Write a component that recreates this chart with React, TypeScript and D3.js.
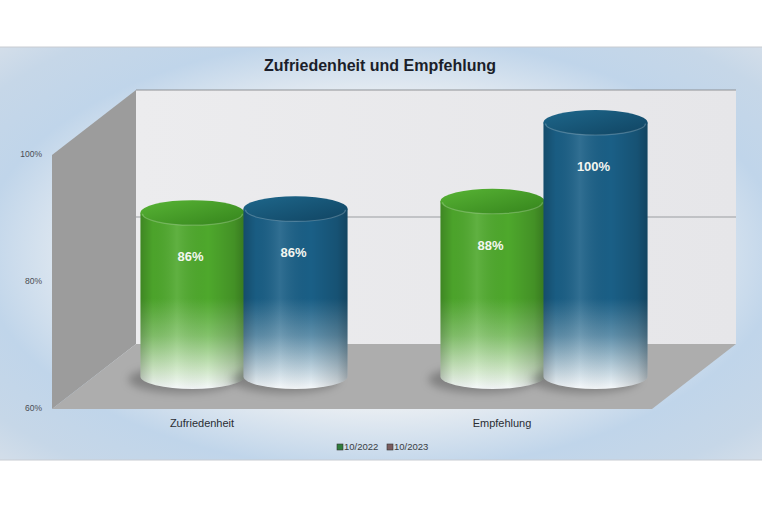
import * as d3 from 'd3'

// ---- data ----
const categories = ['Zufriedenheit', 'Empfehlung']
const seriesNames = ['10/2022', '10/2023']
const values2022 = [0.858, 0.876]
const values2023 = [0.864, 1.0]
const yTicks = [0.6, 0.8, 1.0]

const W = 762
const H = 508

// front plane of the 3D box
const FRONT_LEFT = 52
const FRONT_RIGHT = 652
const FRONT_BOTTOM = 409
const FRONT_TOP = 155
// depth of the box
const DX = 84
const DY = -65

const SERIES_COLORS = [
  { main: '#4ea82c', top: '#58b435', dark: '#35841c', legend: '#2f7d3c' },
  { main: '#1a5f86', top: '#1e678b', dark: '#104462', legend: '#7a5c5e' },
]

const pctFmt = d3.format('.0%')

export default function App() {
  const y = d3.scaleLinear().domain([0.6, 1]).range([FRONT_BOTTOM, FRONT_TOP])
  const x0 = d3.scaleBand<string>().domain(categories).range([FRONT_LEFT, FRONT_RIGHT])
  const x1 = d3.scaleBand<string>().domain(seriesNames).range([0, x0.bandwidth()]).paddingOuter(0.456)

  const rx = 52
  const ry = 12.5
  const midX = DX / 2
  const midY = DY / 2

  const seriesValues = [values2022, values2023]

  // back wall corners
  const bx0 = FRONT_LEFT + DX
  const bx1 = FRONT_RIGHT + DX
  const byTop = y(1) + DY
  const byBot = y(0.6) + DY

  const fadeTop = y(1) + midY
  const fadeBot = y(0.6) + midY + ry

  const cylinders: React.ReactNode[] = []
  categories.forEach((cat, ci) => {
    seriesNames.forEach((s, si) => {
      const v = seriesValues[si][ci]
      const cx = (x0(cat) ?? 0) + (x1(s) ?? 0) + x1.bandwidth() / 2 + midX
      const yTop = y(v) + midY
      const yBot = y(0.6) + midY
      const body = `M${cx - rx},${yTop} L${cx - rx},${yBot} A${rx},${ry} 0 0 0 ${cx + rx},${yBot} L${cx + rx},${yTop} Z`
      cylinders.push(
        <g key={`${ci}-${si}`}>
          <ellipse cx={cx - 10} cy={yBot + 3} rx={rx + 2} ry={ry + 1} fill="rgba(0,0,0,0.25)" filter="url(#blur)" />
          <path d={body} fill={`url(#vgrad${si})`} />
          <path d={body} fill="url(#hshade)" />
          <ellipse cx={cx} cy={yTop} rx={rx} ry={ry} fill={`url(#topgrad${si})`} />
          <path
            d={`M${cx - rx + 2},${yTop + 1} A${rx - 2},${ry - 1} 0 0 0 ${cx + rx - 2},${yTop + 1}`}
            fill="none" stroke="rgba(255,255,255,0.22)" strokeWidth={1.2}
          />
          <text
            x={cx - 2} y={yTop + 45}
            textAnchor="middle" dominantBaseline="middle"
            style={{ fontSize: 13, fontWeight: 700, fill: '#f4f6f0', fontFamily: 'Liberation Sans, Arial, sans-serif' }}
          >
            {pctFmt(v)}
          </text>
        </g>
      )
    })
  })

  const legendX = [337, 387]

  return (
    <svg width={W} height={H} style={{ position: 'absolute', left: 0, top: 0 }} fontFamily="Liberation Sans, Arial, sans-serif">
      <defs>
        <radialGradient id="bg" cx="0.5" cy="0.5" r="0.75">
          <stop offset="0" stopColor="#f3f4f6" />
          <stop offset="0.5" stopColor="#e8edf2" />
          <stop offset="0.7" stopColor="#c0d5ea" />
          <stop offset="0.85" stopColor="#c6d7e8" />
          <stop offset="1" stopColor="#dbe2ea" />
        </radialGradient>
        <linearGradient id="backwall" x1="0" y1="0" x2="1" y2="0">
          <stop offset="0" stopColor="#ececee" />
          <stop offset="1" stopColor="#e6e6e9" />
        </linearGradient>
        {SERIES_COLORS.map((c, i) => (
          <linearGradient key={i} id={`vgrad${i}`} gradientUnits="userSpaceOnUse" x1="0" y1={fadeTop} x2="0" y2={fadeBot}>
            <stop offset="0" stopColor={c.main} />
            <stop offset="0.66" stopColor={c.main} />
            <stop offset="0.8" stopColor={d3.interpolateRgb(c.main, '#ffffff')(0.3)} />
            <stop offset="0.92" stopColor={d3.interpolateRgb(c.main, '#ffffff')(0.7)} />
            <stop offset="1" stopColor="#f6f9fb" />
          </linearGradient>
        ))}
        {SERIES_COLORS.map((c, i) => (
          <linearGradient key={`t${i}`} id={`topgrad${i}`} x1="0" y1="0" x2="1" y2="1">
            <stop offset="0" stopColor={c.top} />
            <stop offset="1" stopColor={c.dark} />
          </linearGradient>
        ))}
        <linearGradient id="hshade" x1="0" y1="0" x2="1" y2="0">
          <stop offset="0" stopColor="#000" stopOpacity={0.2} />
          <stop offset="0.12" stopColor="#000" stopOpacity={0.03} />
          <stop offset="0.35" stopColor="#fff" stopOpacity={0.1} />
          <stop offset="0.65" stopColor="#000" stopOpacity={0} />
          <stop offset="0.9" stopColor="#000" stopOpacity={0.14} />
          <stop offset="1" stopColor="#000" stopOpacity={0.28} />
        </linearGradient>
        <filter id="blur" x="-20%" y="-50%" width="140%" height="200%">
          <feGaussianBlur stdDeviation="4" />
        </filter>
      </defs>

      <rect x={0} y={0} width={W} height={H} fill="#ffffff" />
      {/* chart area */}
      <rect x={0} y={47} width={W} height={413} fill="url(#bg)" />
      <line x1={0} x2={W} y1={47} y2={47} stroke="#c8ccd2" strokeWidth={1} />
      <line x1={0} x2={W} y1={460} y2={460} stroke="#c8ccd2" strokeWidth={1} />

      {/* title */}
      <text x={380} y={67} textAnchor="middle" dominantBaseline="middle"
        style={{ fontSize: 16, fontWeight: 700, fill: '#1b1e2a' }}>
        Zufriedenheit und Empfehlung
      </text>

      {/* back wall */}
      <rect x={bx0} y={byTop} width={bx1 - bx0} height={byBot - byTop} fill="url(#backwall)" />
      <line x1={bx0} x2={bx1} y1={byTop} y2={byTop} stroke="#8f9296" strokeWidth={1} />
      <line x1={bx0} x2={bx1} y1={y(0.8) + DY} y2={y(0.8) + DY} stroke="#9a9da1" strokeWidth={1} />

      {/* left wall */}
      <path
        d={`M${FRONT_LEFT},${y(0.6)} L${FRONT_LEFT},${y(1)} L${bx0},${byTop} L${bx0},${byBot} Z`}
        fill="#9c9c9c"
      />
      {/* floor */}
      <path
        d={`M${FRONT_LEFT},${y(0.6)} L${bx0},${byBot} L${bx1},${byBot} L${FRONT_RIGHT},${y(0.6)} Z`}
        fill="#adadad"
      />

      {/* y ticks */}
      {yTicks.map((t) => (
        <text key={t} x={42} y={y(t)} textAnchor="end" dominantBaseline="middle"
          style={{ fontSize: 8.5, fill: '#4a4d52' }}>
          {pctFmt(t)}
        </text>
      ))}

      {cylinders}

      {/* category labels */}
      {categories.map((c) => (
        <text key={c} x={(x0(c) ?? 0) + x0.bandwidth() / 2} y={424} textAnchor="middle" dominantBaseline="middle"
          style={{ fontSize: 11, fill: '#2a2d33' }}>
          {c}
        </text>
      ))}

      {/* legend */}
      {seriesNames.map((s, i) => (
        <g key={s}>
          <rect x={legendX[i]} y={444} width={6} height={6} fill={SERIES_COLORS[i].legend} stroke="#333" strokeWidth={0.6} />
          <text x={legendX[i] + 7} y={447.5} dominantBaseline="middle" style={{ fontSize: 9.5, fill: '#3a3d42' }}>
            {s}
          </text>
        </g>
      ))}
    </svg>
  )
}
